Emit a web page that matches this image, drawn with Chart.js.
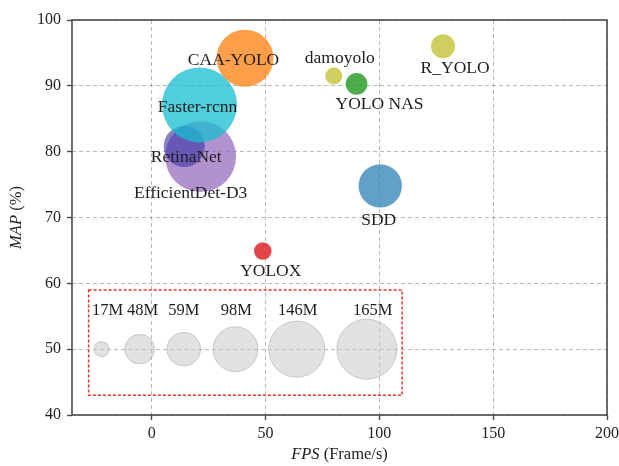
<!DOCTYPE html>
<html>
<head>
<meta charset="utf-8">
<script src="https://cdn.jsdelivr.net/npm/chart.js@4.4.1/dist/chart.umd.min.js"></script>
<style>
  html, body { margin: 0; padding: 0; background: #fff; }
  #wrap { width: 619px; height: 466px; }
</style>
</head>
<body>
<div id="wrap"><canvas id="chart" width="619" height="466"></canvas></div>
<script>
// Detector comparison: speed (FPS) vs accuracy (MAP), bubble area ~ model size (M params)
const models   = ['EfficientDet-D3', 'RetinaNet', 'Faster-rcnn', 'CAA-YOLO', 'damoyolo', 'YOLO NAS', 'R_YOLO', 'SDD', 'YOLOX'];
const fps      = [21.5, 14.3, 21, 41, 80, 90, 128, 100.4, 48.8];
const mapPct   = [79.25, 80.8, 87.1, 94.2, 91.5, 90.3, 96, 74.8, 64.9];
const paramsM  = [224, 84, 248, 150, 20, 29, 34, 92, 21];

// Size key drawn inside the dashed box
const keyParams = [17, 48, 59, 98, 146, 165];
const keyLabels = ['17M', '48M', '59M', '98M', '146M', '165M'];
const keyFps    = [-22, -5.3, 14.1, 36.8, 63.7, 94.5];
const keyMap    = 50;
const keyLabelMap = 55.8;
const keyBoxFps = [-27.7, 110];
const keyBoxMap = [43, 59];

// Axis ticks
const fpsTicks = [0, 50, 100, 150, 200];
const mapTicks = [40, 50, 60, 70, 80, 90, 100];

// ---- styling ----
const colors = {
  'EfficientDet-D3': 'rgba(148,103,189,0.72)',
  'RetinaNet':       'rgba(62,52,165,0.62)',
  'Faster-rcnn':     'rgba(23,190,207,0.75)',
  'CAA-YOLO':        'rgba(255,127,14,0.75)',
  'damoyolo':        'rgba(188,189,34,0.72)',
  'YOLO NAS':        'rgba(44,160,44,0.85)',
  'R_YOLO':          'rgba(188,189,34,0.72)',
  'SDD':             'rgba(31,119,180,0.7)',
  'YOLOX':           'rgba(222,38,40,0.85)'
};
// label placement relative to each bubble centre, in pixels
const labelShift = {
  'EfficientDet-D3': [-10, 36.5],
  'RetinaNet':       [2, 11.5],
  'Faster-rcnn':     [-2, 2],
  'CAA-YOLO':        [-11.5, 2],
  'damoyolo':        [6, -18],
  'YOLO NAS':        [23, 20.5],
  'R_YOLO':          [12, 22.5],
  'SDD':             [-1.5, 35],
  'YOLOX':           [8, 20]
};
const keyLabelShift = [6, 3, 0, 1, 1, 6];

const SERIF = '"Liberation Serif", "Times New Roman", serif';
const radiusOf = m => 2.57 * Math.sqrt(m) - 3;

const modelPoints = models.map((n, i) => ({ x: fps[i], y: mapPct[i], r: radiusOf(paramsM[i]) }));
const keyPoints = keyParams.map((m, i) => ({ x: keyFps[i], y: keyMap, r: radiusOf(m) }));

const decor = {
  id: 'decor',
  beforeDatasetsDraw(chart) {
    const { ctx, scales: { x, y } } = chart;
    const l = x.getPixelForValue(keyBoxFps[0]), r = x.getPixelForValue(keyBoxFps[1]);
    const t = y.getPixelForValue(keyBoxMap[1]), b = y.getPixelForValue(keyBoxMap[0]);
    ctx.save();
    ctx.strokeStyle = '#e8322c';
    ctx.lineWidth = 1.5;
    ctx.setLineDash([3, 2]);
    ctx.strokeRect(l, t, r - l, b - t);
    ctx.restore();
  },
  afterDatasetsDraw(chart) {
    const { ctx, scales: { x, y } } = chart;
    ctx.save();
    ctx.fillStyle = '#1e1e1e';
    ctx.textAlign = 'center';
    ctx.textBaseline = 'middle';
    ctx.font = '17.5px ' + SERIF;
    const meta = chart.getDatasetMeta(0);
    models.forEach((n, i) => {
      const el = meta.data[i];
      const [dx, dy] = labelShift[n];
      ctx.fillText(n, el.x + dx, el.y + dy);
    });
    ctx.font = '16.5px ' + SERIF;
    const yl = y.getPixelForValue(keyLabelMap);
    keyLabels.forEach((t, i) => {
      ctx.fillText(t, x.getPixelForValue(keyFps[i]) + keyLabelShift[i], yl);
    });
    ctx.restore();
  },
  afterDraw(chart) {
    const { ctx, chartArea: a } = chart;
    ctx.save();
    // plot frame
    ctx.strokeStyle = '#4a4a4a';
    ctx.lineWidth = 1.6;
    ctx.strokeRect(a.left, a.top, a.right - a.left, a.bottom - a.top);
    // axis titles with italic variable names
    ctx.fillStyle = '#1e1e1e';
    ctx.textBaseline = 'middle';
    const drawTitle = (italic, rest, cx, cy, rot) => {
      ctx.save();
      ctx.translate(cx, cy);
      if (rot) ctx.rotate(-Math.PI / 2);
      ctx.font = 'italic 16.5px ' + SERIF;
      const w1 = ctx.measureText(italic).width;
      ctx.font = '16.5px ' + SERIF;
      const w2 = ctx.measureText(rest).width;
      const start = -(w1 + w2) / 2;
      ctx.textAlign = 'left';
      ctx.font = 'italic 16.5px ' + SERIF;
      ctx.fillText(italic, start, 0);
      ctx.font = '16.5px ' + SERIF;
      ctx.fillText(rest, start + w1, 0);
      ctx.restore();
    };
    drawTitle('FPS', ' (Frame/s)', (a.left + a.right) / 2, 455, false);
    drawTitle('MAP', ' (%)', 17, (a.top + a.bottom) / 2, true);
    ctx.restore();
  }
};

const gridStyle = {
  color: 'rgba(0,0,0,0.27)',
  lineWidth: 1,
  drawTicks: true,
  tickLength: 5,
  tickColor: '#4a4a4a',
  tickWidth: 1.4,
  tickBorderDash: []
};

new Chart(document.getElementById('chart'), {
  type: 'bubble',
  data: {
    datasets: [
      {
        data: modelPoints,
        backgroundColor: models.map(n => colors[n]),
        borderWidth: 0
      },
      {
        data: keyPoints,
        backgroundColor: 'rgba(200,200,200,0.55)',
        borderColor: 'rgba(175,175,175,0.6)',
        borderWidth: 1
      }
    ]
  },
  options: {
    responsive: false,
    animation: false,
    devicePixelRatio: 1,
    layout: { autoPadding: false, padding: { left: 0, top: 20, right: 12, bottom: 0 } },
    plugins: { legend: { display: false }, tooltip: { enabled: false } },
    events: [],
    scales: {
      x: {
        type: 'linear',
        min: -35,
        max: 200,
        afterBuildTicks: s => { s.ticks = fpsTicks.map(v => ({ value: v })); },
        afterFit: s => { s.height = 51; s.paddingLeft = 0; s.paddingRight = 0; },
        grid: gridStyle,
        border: { display: false, dash: [4, 3] },
        ticks: { font: { family: SERIF, size: 16 }, color: '#222', padding: 4, maxRotation: 0 }
      },
      y: {
        type: 'linear',
        min: 40,
        max: 100,
        afterBuildTicks: s => { s.ticks = mapTicks.map(v => ({ value: v })); },
        afterFit: s => { s.width = 72; s.paddingTop = 0; s.paddingBottom = 0; },
        grid: gridStyle,
        border: { display: false, dash: [4, 3] },
        ticks: { font: { family: SERIF, size: 16 }, color: '#222', padding: 6 }
      }
    }
  },
  plugins: [decor]
});
</script>
</body>
</html>
